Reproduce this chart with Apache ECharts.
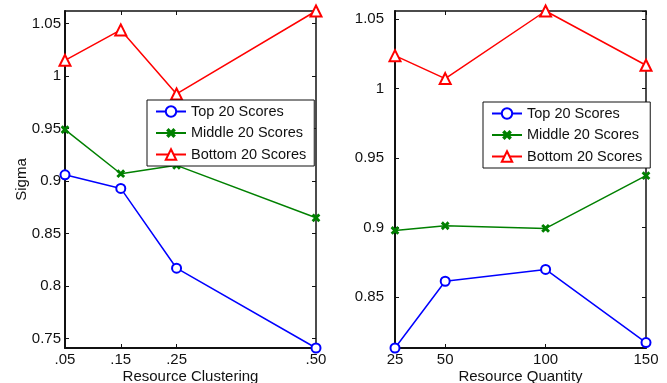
<!DOCTYPE html>
<html>
<head>
<meta charset="utf-8">
<script src="https://cdn.jsdelivr.net/npm/echarts@6/dist/echarts.min.js"></script>
<style>
html,body{margin:0;padding:0;background:#fff;}
#c{width:667px;height:383px;}
</style>
</head>
<body>
<div id="c"></div>
<script>
// ---- data ----
var seriesNames = ['Top 20 Scores', 'Middle 20 Scores', 'Bottom 20 Scores'];

var clusterX = [0.05, 0.15, 0.25, 0.50];
var clusterLabels = ['.05', '.15', '.25', '.50'];
var clusterTop = [0.906, 0.893, 0.817, 0.741];
var clusterMid = [0.949, 0.907, 0.915, 0.865];
var clusterBot = [1.015, 1.044, 0.983, 1.062];

var quantityX = [25, 50, 100, 150];
var quantityLabels = ['25', '50', '100', '150'];
var quantityTop = [0.8135, 0.8615, 0.870, 0.8174];
var quantityMid = [0.898, 0.9014, 0.8995, 0.9374];
var quantityBot = [1.0237, 1.0072, 1.0558, 1.0168];

// ---- chart ----
var FONT = '"Liberation Sans", Arial, Helvetica, sans-serif';
var colors = ['#0000ff', '#008000', '#ff0000'];
var xSym = 'path://M-2.5,-2.5L-2.5,-2.5ZM12.5,12.5L12.5,12.5ZM0,1.5L1.5,0L5,3.5L8.5,0L10,1.5L6.5,5L10,8.5L8.5,10L5,6.5L1.5,10L0,8.5L3.5,5Z';
var symbols = ['emptyCircle', xSym, 'emptyTriangle'];
var symSizes = [9, 10, 11];

function pairs(xs, ys) { return xs.map(function (x, i) { return [x, ys[i]]; }); }
function labelFor(xs, labels) {
  return function (v) {
    for (var i = 0; i < xs.length; i++) if (Math.abs(xs[i] - v) < 1e-9) return labels[i];
    return '';
  };
}

var leftMin = Math.min.apply(null, clusterTop.concat(clusterMid, clusterBot));
var leftMax = Math.max.apply(null, clusterTop.concat(clusterMid, clusterBot));
var rightMin = Math.min.apply(null, quantityTop.concat(quantityMid, quantityBot));
var rightMax = Math.max.apply(null, quantityTop.concat(quantityMid, quantityBot));

var lineCol = '#111';
function xAx(grid, xs, labels, pos, name) {
  var main = pos === 'bottom';
  return {
    gridIndex: grid, type: 'value', position: pos,
    min: xs[0], max: xs[xs.length - 1],
    axisLine: { show: true, onZero: false, lineStyle: { color: lineCol, width: main ? 2 : 1.5 } },
    axisTick: { show: true, inside: true, length: 4, customValues: xs, lineStyle: { color: lineCol, width: 1 } },
    axisLabel: { show: main, customValues: xs, formatter: labelFor(xs, labels), margin: 4,
      fontSize: 15, fontFamily: FONT, color: '#111' },
    splitLine: { show: false },
    name: main ? name : '', nameLocation: 'middle', nameGap: 21, nameMoveOverlap: false,
    nameTextStyle: { fontSize: 15, fontFamily: FONT, color: '#111' }
  };
}
function yAx(grid, mn, mx, pos, margin, name) {
  var main = pos === 'left';
  return {
    gridIndex: grid, type: 'value', position: pos,
    min: mn, max: mx, splitNumber: 5, minInterval: 0.05, maxInterval: 0.05,
    axisLine: { show: true, onZero: false, lineStyle: { color: lineCol, width: main ? 2 : 1.5 } },
    axisTick: { show: true, inside: true, length: 4, lineStyle: { color: lineCol, width: 1 } },
    axisLabel: { show: main, margin: margin, showMinLabel: false, showMaxLabel: false,
      fontSize: 15, fontFamily: FONT, color: '#111' },
    splitLine: { show: false },
    name: main ? name : '', nameLocation: 'middle', nameGap: 36, nameMoveOverlap: false,
    nameTextStyle: { fontSize: 15, fontFamily: FONT, color: '#111' }
  };
}

var series = [];
var leftData = [clusterTop, clusterMid, clusterBot];
var rightData = [quantityTop, quantityMid, quantityBot];
for (var i = 0; i < 3; i++) {
  var base = {
    name: seriesNames[i], type: 'line', symbol: symbols[i], symbolSize: symSizes[i],
    clip: false, animation: false,
    lineStyle: { color: colors[i], width: 1.5 },
    itemStyle: { color: colors[i], borderColor: colors[i], borderWidth: 1.5 },
    emphasis: { disabled: true }
  };
  series.push(Object.assign({}, base, { xAxisIndex: 0, yAxisIndex: 0, data: pairs(clusterX, leftData[i]) }));
  series.push(Object.assign({}, base, { xAxisIndex: 2, yAxisIndex: 2, data: pairs(quantityX, rightData[i]) }));
}

function legend(left, top) {
  return {
    data: seriesNames, orient: 'vertical', left: left, top: top,
    itemWidth: 30, itemHeight: 13, itemGap: 6.5,
    padding: [4, 8, 4, 8],
    borderColor: '#111', borderWidth: 1, backgroundColor: '#fff',
    selectedMode: false,
    textStyle: { fontSize: 14.5, fontFamily: FONT, color: '#111' }
  };
}

var option = {
  animation: false,
  backgroundColor: '#fff',
  grid: [
    { left: 65, right: 351, top: 11, bottom: 35, containLabel: false, outerBoundsMode: 'none' },
    { left: 395, right: 21, top: 11, bottom: 35, containLabel: false, outerBoundsMode: 'none' }
  ],
  xAxis: [
    xAx(0, clusterX, clusterLabels, 'bottom', 'Resource Clustering'),
    xAx(0, clusterX, clusterLabels, 'top', ''),
    xAx(1, quantityX, quantityLabels, 'bottom', 'Resource Quantity'),
    xAx(1, quantityX, quantityLabels, 'top', '')
  ],
  yAxis: [
    yAx(0, leftMin, leftMax, 'left', 4, 'Sigma'),
    yAx(0, leftMin, leftMax, 'right', 4, ''),
    yAx(1, rightMin, rightMax, 'left', 11, ''),
    yAx(1, rightMin, rightMax, 'right', 11, '')
  ],
  legend: [legend(147, 100), legend(483, 102)],
  series: series
};

var chart = echarts.init(document.getElementById('c'), null, { renderer: 'canvas' });
chart.setOption(option);
</script>
</body>
</html>
